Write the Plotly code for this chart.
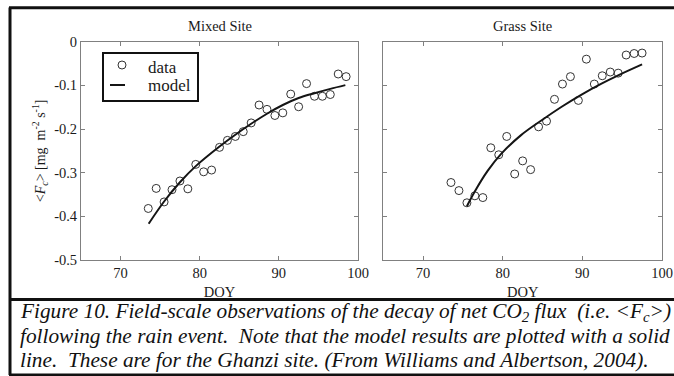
import plotly.graph_objects as go

# ---- data -------------------------------------------------------------
mixed_doy = [73.5, 74.5, 75.5, 76.5, 77.5, 78.5, 79.5, 80.5, 81.5, 82.5, 83.5, 84.5, 85.5,
             86.5, 87.5, 88.5, 89.5, 90.5, 91.5, 92.5, 93.5, 94.5, 95.5, 96.5, 97.5, 98.5]
mixed_fc = [-0.382, -0.336, -0.367, -0.339, -0.319, -0.337, -0.281, -0.298, -0.294, -0.242,
            -0.226, -0.217, -0.206, -0.186, -0.145, -0.155, -0.169, -0.163, -0.120, -0.149,
            -0.096, -0.125, -0.125, -0.121, -0.074, -0.080]
mixed_model_doy = [73.55, 75.5, 77.5, 79.5, 82.5, 84.5, 86.5, 88.5, 90.5, 92.5, 94.5, 96.5, 98.4]
mixed_model_fc = [-0.417, -0.366, -0.322, -0.285, -0.240, -0.213, -0.188, -0.165, -0.145,
                  -0.129, -0.118, -0.108, -0.0995]

grass_doy = [73.5, 74.5, 75.5, 76.5, 77.5, 78.5, 79.5, 80.5, 81.5, 82.5, 83.5, 84.5, 85.5,
             86.5, 87.5, 88.5, 89.5, 90.5, 91.5, 92.5, 93.5, 94.5, 95.5, 96.5, 97.5]
grass_fc = [-0.3225, -0.341, -0.369, -0.353, -0.357, -0.243, -0.259, -0.217, -0.303, -0.273,
            -0.293, -0.195, -0.182, -0.132, -0.097, -0.080, -0.1345, -0.040, -0.097, -0.078,
            -0.0695, -0.072, -0.0305, -0.027, -0.026]
grass_model_doy = [75.5, 76.4, 78.1, 79.8, 82.3, 84.8, 87.4, 89.9, 92.4, 94.5, 97.5]
grass_model_fc = [-0.377, -0.346, -0.296, -0.257, -0.214, -0.181, -0.149, -0.121, -0.096,
                  -0.077, -0.052]

x_ticks = [70, 80, 90, 100]
x_tick_labels = ["70", "80", "90", "100"]
y_ticks = [0, -0.1, -0.2, -0.3, -0.4, -0.5]
y_tick_labels = ["0", "-0.1", "-0.2", "-0.3", "-0.4", "-0.5"]

panel_titles = ["Mixed Site", "Grass Site"]
legend_labels = ["data", "model"]
caption_lines = [
    "Figure 10. Field-scale observations of the decay of net CO<sub>2</sub> flux\u00a0 "
    "(i.e. &lt;F<sub>c</sub>&gt;)",
    "following the rain event.\u00a0 Note that the model results are plotted with a solid",
    "line.\u00a0 These are for the Ghanzi site. (From Williams and Albertson, 2004).",
]

# ---- styling ----------------------------------------------------------
W, H = 674, 376
FONT = "Liberation Serif, Times New Roman, serif"
INK = "#1a1a1a"
AXIS_GREY = "#808080"
MARKER = dict(symbol="circle-open", size=8, color="#333333", line=dict(width=1, color="#333333"))
LINE = dict(color="#151515", width=2)


def px_x(p):
    return p / W


def px_y(p):
    return 1 - p / H


fig = go.Figure()

fig.add_trace(go.Scatter(x=mixed_doy, y=mixed_fc, mode="markers", marker=MARKER,
                         name=legend_labels[0], xaxis="x", yaxis="y"))
fig.add_trace(go.Scatter(x=mixed_model_doy, y=mixed_model_fc, mode="lines", line=LINE,
                         line_shape="spline", name=legend_labels[1], xaxis="x", yaxis="y"))
fig.add_trace(go.Scatter(x=grass_doy, y=grass_fc, mode="markers", marker=MARKER,
                         name=legend_labels[0], xaxis="x2", yaxis="y2"))
fig.add_trace(go.Scatter(x=grass_model_doy, y=grass_model_fc, mode="lines", line=LINE,
                         line_shape="spline", name=legend_labels[1], xaxis="x2", yaxis="y2"))

y_dom = [px_y(260), px_y(41.7)]
common_x = dict(range=[65, 100], tickvals=x_ticks, ticktext=x_tick_labels, ticks="inside",
                ticklen=4, tickcolor=AXIS_GREY, showline=True, linecolor=AXIS_GREY,
                linewidth=1, mirror="ticks", showgrid=False, zeroline=False,
                automargin=False, ticklabeloverflow="allow",
                tickfont=dict(family=FONT, size=14.5, color=INK),
                title=dict(text="DOY", font=dict(family=FONT, size=14.5, color=INK),
                           standoff=6))
common_y = dict(range=[-0.5, 0], tickvals=y_ticks, ticktext=y_tick_labels, ticks="inside",
                ticklen=4, tickcolor=AXIS_GREY, showline=True, linecolor=AXIS_GREY,
                linewidth=1, mirror="ticks", showgrid=False, zeroline=False,
                automargin=False,
                tickfont=dict(family=FONT, size=14.5, color=INK))

fig.update_layout(
    template="none",
    width=W, height=H, margin=dict(l=0, r=0, t=0, b=0, pad=0, autoexpand=False),
    paper_bgcolor="white", plot_bgcolor="white",
    font=dict(family=FONT, color=INK),
    showlegend=False,
    xaxis=dict(common_x, domain=[px_x(81), px_x(358)], anchor="y"),
    yaxis=dict(common_y, domain=y_dom, anchor="x",
               title=dict(text="&lt;<i>F<sub>c</sub></i>&gt; [mg\u00a0 m<sup>-2</sup> s<sup>-1</sup>]",
                          font=dict(family=FONT, size=14, color=INK), standoff=5)),
    xaxis2=dict(common_x, domain=[px_x(383.3), px_x(662)], anchor="y2"),
    yaxis2=dict(common_y, domain=y_dom, anchor="x2", showticklabels=False),
)

# panel titles
for txt, cx in zip(panel_titles, [219.5, 522.7]):
    fig.add_annotation(text=txt, x=px_x(cx), y=px_y(26), xref="paper", yref="paper",
                       xanchor="center", yanchor="middle", showarrow=False,
                       font=dict(family=FONT, size=14.5, color=INK))

# key box for the mixed-site panel
fig.add_shape(type="rect", x0=px_x(103), x1=px_x(198), y0=px_y(53), y1=px_y(101),
              xref="paper", yref="paper", fillcolor="white",
              line=dict(color="#111111", width=2))
fig.add_shape(type="circle", x0=px_x(118), x1=px_x(126), y0=px_y(61), y1=px_y(69),
              xref="paper", yref="paper", line=dict(color="#333333", width=1))
fig.add_shape(type="line", x0=px_x(110), x1=px_x(125), y0=px_y(85), y1=px_y(85),
              xref="paper", yref="paper", line=LINE)
for txt, cy in zip(legend_labels, [67, 86]):
    fig.add_annotation(text=txt, x=px_x(146), y=px_y(cy), xref="paper", yref="paper",
                       xanchor="left", yanchor="middle", showarrow=False,
                       font=dict(family=FONT, size=17, color=INK))

# caption, one annotation per line for tight line spacing
for txt, cy in zip(caption_lines, [312, 336, 360]):
    fig.add_annotation(text=txt, x=px_x(18), y=px_y(cy), xref="paper", yref="paper",
                       xanchor="left", yanchor="middle", align="left", showarrow=False,
                       font=dict(family=FONT, size=21.3, color="#111111", style="italic"))

# outer frame and caption divider
fig.add_shape(type="line", x0=px_x(10), x1=px_x(10), y0=px_y(7.5), y1=px_y(375),
              xref="paper", yref="paper", line=dict(color="#111111", width=3))
for yy in [7.7, 299.5, 375]:
    fig.add_shape(type="line", x0=px_x(9), x1=1.0, y0=px_y(yy), y1=px_y(yy),
                  xref="paper", yref="paper", line=dict(color="#111111", width=3))

fig.write_html("out.html")
